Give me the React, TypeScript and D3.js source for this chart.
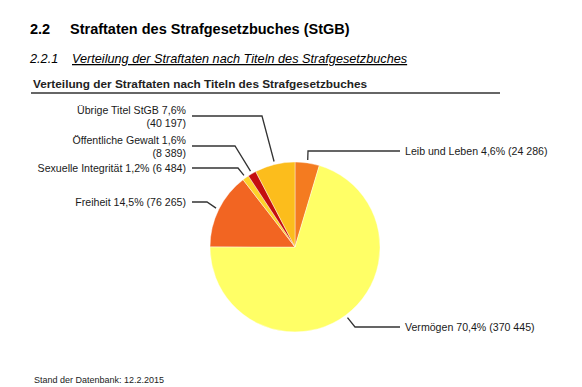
import * as d3 from "d3";
import React, { useEffect, useRef } from "react";

// Straftaten nach Titeln des StGB, clockwise from 12 o'clock
const categories = [
    "Leib und Leben",
    "Vermögen",
    "Freiheit",
    "Sexuelle Integrität",
    "Öffentliche Gewalt",
    "Übrige Titel StGB",
];
const counts = [24286, 370445, 76265, 6484, 8389, 40197];
const percents = ["4,6%", "70,4%", "14,5%", "1,2%", "1,6%", "7,6%"];
const countLabels = ["24 286", "370 445", "76 265", "6 484", "8 389", "40 197"];
const colors = ["#f47b20", "#ffff66", "#f26522", "#fdd22a", "#c40f0f", "#fcbd1c"];

// label layout: side, y of the leader's horizontal line, x of the elbow, two-line label?
const labelSide = ["right", "right", "left", "left", "left", "left"];
const labelLineY = [151, 327, 202, 168, 146, 116];
const labelElbowX = [308, 355, 207, 238, 235, 262];
const labelTwoLines = [false, false, false, false, true, true];

export default function App() {
    const ref = useRef<SVGSVGElement>(null);

    useEffect(() => {
        const svg = d3.select(ref.current);
        svg.selectAll("*").remove();

        const font = "Liberation Sans, Arial, sans-serif";
        const cx = 295, cy = 247, radius = 85;

        // headings
        svg.append("text").attr("x", 30).attr("y", 34)
            .attr("font-family", font).attr("font-weight", "bold").attr("font-size", 14.5)
            .text("2.2");
        svg.append("text").attr("x", 70).attr("y", 34)
            .attr("font-family", font).attr("font-weight", "bold").attr("font-size", 14.5)
            .text("Straftaten des Strafgesetzbuches (StGB)");
        svg.append("text").attr("x", 30).attr("y", 63)
            .attr("font-family", font).attr("font-style", "italic").attr("font-size", 12.7)
            .text("2.2.1");
        svg.append("text").attr("x", 72).attr("y", 63)
            .attr("font-family", font).attr("font-style", "italic").attr("font-size", 12.7)
            .attr("text-decoration", "underline")
            .text("Verteilung der Straftaten nach Titeln des Strafgesetzbuches");

        svg.append("text").attr("x", 33).attr("y", 88)
            .attr("font-family", font).attr("font-weight", "bold").attr("font-size", 11.8)
            .attr("fill", "#222")
            .text("Verteilung der Straftaten nach Titeln des Strafgesetzbuches");
        svg.append("line").attr("x1", 31).attr("x2", 500).attr("y1", 93).attr("y2", 93)
            .attr("stroke", "#333").attr("stroke-width", 1.5);

        const pie = d3.pie<number>().sort(null).value((d) => d);
        const arcs = pie(counts);
        const arc = d3.arc<d3.PieArcDatum<number>>().innerRadius(0).outerRadius(radius);
        const outer = d3.arc<d3.PieArcDatum<number>>().innerRadius(radius + 3).outerRadius(radius + 3);

        const g = svg.append("g").attr("transform", `translate(${cx},${cy})`);
        g.selectAll("path")
            .data(arcs)
            .join("path")
            .attr("d", arc)
            .attr("fill", (_, i) => colors[i])
            .attr("stroke", "#fff")
            .attr("stroke-width", 0.4);

        arcs.forEach((a, i) => {
            const [sx, sy] = outer.centroid(a);
            const left = labelSide[i] === "left";
            const endX = left ? 192 : 400;
            const y = labelLineY[i];
            svg.append("path")
                .attr("d", d3.line()([
                    [cx + sx, cy + sy],
                    [labelElbowX[i], y],
                    [endX, y],
                ]))
                .attr("fill", "none")
                .attr("stroke", "#333")
                .attr("stroke-width", 1.3);

            const t = svg.append("text")
                .attr("font-family", font).attr("font-size", 10.6)
                .attr("fill", "#1a1a1a")
                .attr("text-anchor", left ? "end" : "start");
            const tx = left ? 186 : 405;
            if (labelTwoLines[i]) {
                t.append("tspan").attr("x", tx).attr("y", y - 2)
                    .text(`${categories[i]} ${percents[i]}`);
                t.append("tspan").attr("x", tx).attr("y", y + 10.5)
                    .text(`(${countLabels[i]})`);
            } else {
                t.attr("x", tx).attr("y", y + 3.5)
                    .text(`${categories[i]} ${percents[i]} (${countLabels[i]})`);
            }
        });

        svg.append("text").attr("x", 34).attr("y", 383)
            .attr("font-family", font).attr("font-size", 9).attr("fill", "#222")
            .text("Stand der Datenbank: 12.2.2015");
    }, []);

    return (
        <svg
            ref={ref}
            width={582}
            height={387}
            style={{ position: "absolute", left: 0, top: 0, background: "#fff" }}
        />
    );
}
